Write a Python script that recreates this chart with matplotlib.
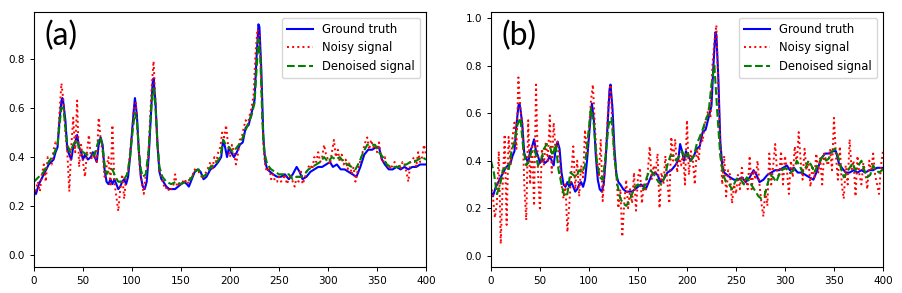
import numpy as np
import matplotlib.pyplot as plt

plt.rcParams["font.family"] = "DejaVu Sans"

# ground truth (same in both panels)
gt_x = [0, 2, 5, 10, 15, 20, 22, 24, 26, 28, 29, 30, 32, 34, 36, 38, 40, 42, 44, 46,
        48, 50, 52, 55, 58, 60, 62, 64, 66, 68, 70, 72, 74, 76, 78, 80, 82, 84, 86, 88,
        90, 92, 94, 96, 98, 100, 102, 103, 105, 107, 109, 111, 113, 115, 117, 119, 121, 122, 124, 126,
        128, 130, 132, 135, 138, 141, 144, 147, 150, 153, 156, 158, 161, 164, 167, 170, 173, 176, 180, 184,
        188, 191, 193, 195, 197, 199, 201, 204, 207, 210, 213, 216, 219, 222, 225, 227, 229, 230, 232, 234,
        236, 238, 241, 244, 248, 252, 256, 260, 264, 268, 271, 274, 278, 282, 286, 290, 294, 298, 302, 305,
        309, 313, 317, 321, 325, 329, 333, 337, 341, 345, 349, 352, 355, 358, 362, 366, 370, 374, 378, 382,
        386, 390, 394, 398, 400]
gt_y = [0.27, 0.25, 0.29, 0.33, 0.37, 0.39, 0.42, 0.44, 0.55, 0.63, 0.64, 0.62, 0.55, 0.43, 0.41, 0.39, 0.44, 0.46, 0.49, 0.44,
        0.42, 0.39, 0.41, 0.39, 0.40, 0.42, 0.40, 0.38, 0.45, 0.48, 0.45, 0.35, 0.30, 0.29, 0.31, 0.29, 0.31, 0.29, 0.27, 0.28,
        0.30, 0.31, 0.29, 0.32, 0.40, 0.50, 0.60, 0.64, 0.57, 0.42, 0.32, 0.28, 0.27, 0.30, 0.40, 0.55, 0.70, 0.72, 0.62, 0.45,
        0.34, 0.31, 0.30, 0.28, 0.27, 0.27, 0.27, 0.28, 0.29, 0.30, 0.29, 0.28, 0.31, 0.34, 0.35, 0.34, 0.31, 0.32, 0.35, 0.36,
        0.38, 0.40, 0.47, 0.44, 0.40, 0.44, 0.42, 0.40, 0.42, 0.45, 0.46, 0.52, 0.53, 0.58, 0.63, 0.80, 0.94, 0.93, 0.75, 0.48,
        0.38, 0.35, 0.34, 0.33, 0.32, 0.32, 0.33, 0.31, 0.33, 0.36, 0.34, 0.31, 0.32, 0.34, 0.35, 0.36, 0.36, 0.37, 0.38, 0.36,
        0.37, 0.35, 0.35, 0.34, 0.33, 0.32, 0.36, 0.41, 0.43, 0.43, 0.44, 0.44, 0.39, 0.37, 0.35, 0.35, 0.36, 0.35, 0.36, 0.35,
        0.36, 0.36, 0.37, 0.37, 0.37]

# noisy signals, sampled every 2 points
noisy_x = np.arange(0, 401, 2)
noisy_a = [0.24, 0.27, 0.30, 0.26, 0.33, 0.37, 0.30, 0.40, 0.38, 0.37,
           0.43, 0.46, 0.45, 0.58, 0.70, 0.63, 0.50, 0.42, 0.26, 0.44,
           0.56, 0.42, 0.63, 0.36, 0.45, 0.38, 0.32, 0.42, 0.49, 0.40,
           0.39, 0.42, 0.38, 0.56, 0.47, 0.42, 0.32, 0.36, 0.40, 0.28,
           0.53, 0.30, 0.24, 0.18, 0.27, 0.33, 0.23, 0.32, 0.34, 0.42,
           0.50, 0.60, 0.62, 0.48, 0.35, 0.30, 0.25, 0.33, 0.36, 0.52,
           0.68, 0.79, 0.62, 0.45, 0.34, 0.32, 0.29, 0.27, 0.28, 0.26,
           0.27, 0.28, 0.33, 0.28, 0.29, 0.30, 0.30, 0.31, 0.29, 0.30,
           0.32, 0.33, 0.35, 0.34, 0.34, 0.33, 0.31, 0.33, 0.34, 0.36,
           0.38, 0.35, 0.40, 0.38, 0.42, 0.44, 0.50, 0.48, 0.53, 0.45,
           0.40, 0.45, 0.42, 0.37, 0.41, 0.47, 0.48, 0.52, 0.55, 0.53,
           0.57, 0.60, 0.65, 0.82, 0.92, 0.90, 0.70, 0.45, 0.36, 0.34,
           0.36, 0.31, 0.33, 0.30, 0.30, 0.32, 0.30, 0.31, 0.33, 0.29,
           0.31, 0.33, 0.30, 0.28, 0.32, 0.30, 0.35, 0.29, 0.31, 0.34,
           0.36, 0.37, 0.35, 0.40, 0.38, 0.42, 0.38, 0.40, 0.45, 0.41,
           0.39, 0.37, 0.42, 0.47, 0.40, 0.43, 0.38, 0.41, 0.37, 0.39,
           0.35, 0.38, 0.33, 0.36, 0.30, 0.34, 0.37, 0.40, 0.43, 0.46,
           0.48, 0.43, 0.47, 0.44, 0.45, 0.42, 0.46, 0.40, 0.38, 0.40,
           0.36, 0.37, 0.35, 0.37, 0.38, 0.36, 0.37, 0.35, 0.38, 0.37,
           0.34, 0.30, 0.38, 0.39, 0.40, 0.36, 0.42, 0.38, 0.40, 0.45,
           0.41]
noisy_b = [0.30, 0.25, 0.16, 0.22, 0.44, 0.05, 0.30, 0.51, 0.13, 0.50,
           0.38, 0.50, 0.56, 0.45, 0.75, 0.62, 0.56, 0.30, 0.15, 0.57,
           0.30, 0.47, 0.21, 0.72, 0.35, 0.19, 0.45, 0.38, 0.48, 0.40,
           0.59, 0.35, 0.56, 0.44, 0.48, 0.40, 0.30, 0.24, 0.30, 0.10,
           0.22, 0.35, 0.46, 0.28, 0.40, 0.25, 0.38, 0.33, 0.53, 0.42,
           0.52, 0.65, 0.72, 0.55, 0.40, 0.33, 0.49, 0.23, 0.36, 0.50,
           0.65, 0.72, 0.55, 0.40, 0.35, 0.20, 0.28, 0.08, 0.22, 0.32,
           0.20, 0.28, 0.22, 0.35, 0.19, 0.33, 0.37, 0.22, 0.30, 0.27,
           0.35, 0.46, 0.32, 0.38, 0.35, 0.43, 0.20, 0.35, 0.30, 0.42,
           0.31, 0.22, 0.50, 0.40, 0.49, 0.35, 0.42, 0.38, 0.43, 0.30,
           0.57, 0.34, 0.44, 0.40, 0.30, 0.45, 0.40, 0.51, 0.48, 0.55,
           0.58, 0.62, 0.58, 0.80, 0.90, 0.97, 0.70, 0.48, 0.30, 0.42,
           0.25, 0.36, 0.34, 0.22, 0.30, 0.26, 0.34, 0.28, 0.37, 0.30,
           0.33, 0.28, 0.42, 0.28, 0.36, 0.32, 0.40, 0.30, 0.22, 0.165,
           0.28, 0.21, 0.43, 0.30, 0.38, 0.47, 0.35, 0.33, 0.44, 0.30,
           0.42, 0.36, 0.26, 0.40, 0.33, 0.46, 0.38, 0.52, 0.40, 0.32,
           0.45, 0.36, 0.40, 0.29, 0.38, 0.33, 0.43, 0.35, 0.41, 0.30,
           0.43, 0.40, 0.38, 0.45, 0.36, 0.58, 0.42, 0.32, 0.46, 0.30,
           0.24, 0.38, 0.30, 0.49, 0.36, 0.40, 0.25, 0.42, 0.34, 0.30,
           0.39, 0.35, 0.28, 0.40, 0.36, 0.43, 0.34, 0.30, 0.26, 0.38,
           0.44]

# denoised outputs
den_a_x = [0, 5, 10, 15, 20, 24, 26, 28, 30, 32, 34, 37, 40, 43, 46, 50, 54, 58, 62, 66,
           68, 70, 72, 74, 77, 80, 83, 86, 89, 92, 95, 98, 101, 103, 105, 107, 109, 111, 114, 117,
           120, 122, 124, 126, 128, 131, 135, 140, 145, 150, 155, 160, 164, 168, 172, 176, 180, 185, 190, 193,
           196, 199, 203, 207, 211, 215, 219, 222, 225, 227, 229, 231, 233, 235, 238, 242, 246, 250, 255, 260,
           264, 268, 272, 276, 280, 284, 288, 292, 296, 300, 304, 308, 312, 316, 320, 324, 328, 332, 336, 340,
           344, 348, 352, 356, 360, 364, 368, 372, 376, 380, 384, 388, 392, 396, 400]
den_a_y = [0.30, 0.32, 0.34, 0.38, 0.41, 0.45, 0.53, 0.60, 0.60, 0.52, 0.45, 0.42, 0.45, 0.47, 0.44, 0.42, 0.41, 0.41, 0.41, 0.47,
           0.48, 0.44, 0.37, 0.33, 0.35, 0.35, 0.32, 0.30, 0.30, 0.31, 0.33, 0.40, 0.52, 0.58, 0.55, 0.43, 0.35, 0.32, 0.33, 0.43,
           0.62, 0.68, 0.60, 0.45, 0.36, 0.32, 0.30, 0.29, 0.30, 0.29, 0.30, 0.31, 0.34, 0.35, 0.32, 0.33, 0.36, 0.37, 0.40, 0.47,
           0.45, 0.44, 0.42, 0.44, 0.46, 0.50, 0.54, 0.57, 0.62, 0.75, 0.88, 0.80, 0.55, 0.42, 0.37, 0.35, 0.34, 0.33, 0.33, 0.33,
           0.31, 0.32, 0.32, 0.33, 0.35, 0.36, 0.37, 0.38, 0.40, 0.38, 0.40, 0.39, 0.40, 0.38, 0.37, 0.36, 0.35, 0.38, 0.42, 0.45,
           0.45, 0.45, 0.42, 0.40, 0.37, 0.36, 0.36, 0.36, 0.37, 0.37, 0.38, 0.38, 0.39, 0.40, 0.39]

den_b_x = np.arange(0, 401, 3)
den_b_x = list(den_b_x[den_b_x < 400]) + [400]
den_b_y = [0.40, 0.35, 0.26, 0.29, 0.36, 0.37, 0.36, 0.44, 0.48, 0.55, 0.58, 0.45, 0.38, 0.40, 0.45, 0.44, 0.38, 0.40, 0.45, 0.47,
           0.46, 0.42, 0.47, 0.36, 0.30, 0.25, 0.26, 0.35, 0.34, 0.33, 0.36, 0.35, 0.38, 0.50, 0.62, 0.55, 0.40, 0.33, 0.32, 0.42,
           0.55, 0.58, 0.42, 0.30, 0.24, 0.22, 0.21, 0.23, 0.26, 0.29, 0.30, 0.29, 0.28, 0.33, 0.36, 0.35, 0.33, 0.31, 0.30, 0.33,
           0.38, 0.42, 0.42, 0.40, 0.42, 0.44, 0.41, 0.43, 0.40, 0.42, 0.47, 0.50, 0.53, 0.57, 0.60, 0.72, 0.80, 0.60, 0.42, 0.34,
           0.31, 0.30, 0.28, 0.31, 0.33, 0.32, 0.30, 0.33, 0.31, 0.29, 0.27, 0.25, 0.24, 0.25, 0.30, 0.34, 0.33, 0.31, 0.34, 0.36,
           0.37, 0.36, 0.35, 0.36, 0.40, 0.38, 0.35, 0.37, 0.40, 0.38, 0.35, 0.38, 0.40, 0.42, 0.40, 0.41, 0.44, 0.45, 0.42, 0.37,
           0.33, 0.35, 0.37, 0.39, 0.36, 0.38, 0.40, 0.36, 0.33, 0.34, 0.38, 0.36, 0.35, 0.36, 0.37]

fig = plt.figure(figsize=(9.02, 2.93), dpi=100)
ax_a = fig.add_axes([0.0377, 0.0887, 0.4346, 0.8703])
ax_b = fig.add_axes([0.5443, 0.0887, 0.4346, 0.8703])

panels = [(ax_a, noisy_a, den_a_x, den_a_y, "(a)", (-0.047, 0.99)),
          (ax_b, noisy_b, den_b_x, den_b_y, "(b)", (-0.047, 1.025))]

for ax, noisy, dx, dy, tag, ylim in panels:
    ax.plot(gt_x, gt_y, color="blue", lw=1.5, label="Ground truth")
    ax.plot(noisy_x, noisy, color="red", lw=1.4, ls=":", label="Noisy signal")
    ax.plot(dx, dy, color="green", lw=1.5, ls="--", label="Denoised signal")
    ax.set_xlim(0, 400)
    ax.set_ylim(*ylim)
    ax.set_xticks([0, 50, 100, 150, 200, 250, 300, 350, 400])
    ax.tick_params(labelsize=7.5, length=3, width=0.7)
    for s in ax.spines.values():
        s.set_linewidth(0.8)
    ax.legend(loc="upper right", fontsize=8.4, handlelength=2.2,
              borderpad=0.45, labelspacing=0.45)
    ax.text(0.028, 0.965, tag, transform=ax.transAxes, fontsize=23,
            family="Lato", ha="left", va="top")

fig.savefig("out.png", dpi=100, facecolor="white")
